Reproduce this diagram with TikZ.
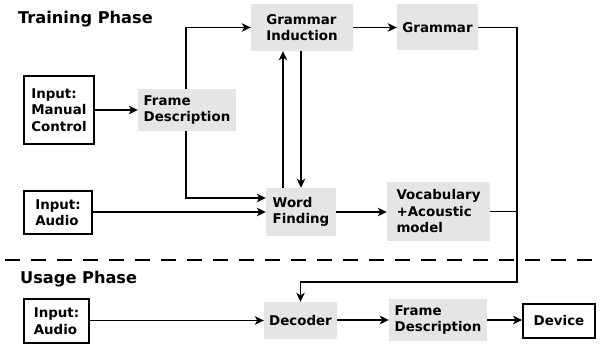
\documentclass[tikz,border=0pt]{standalone}
\usepackage{fontspec}
\setmainfont{DejaVu Sans}
\usetikzlibrary{arrows.meta}
\definecolor{boxgray}{HTML}{E5E5E5}
\tikzset{
  base/.style={font=\fontsize{13.4}{16.5}\selectfont\bfseries, align=left, inner sep=0pt},
  inbox/.style={base, draw=black, line width=1.8pt, fill=white},
  graybox/.style={base, fill=boxgray},
  arr/.style={line width=1.8pt, -{Stealth[length=9pt,width=8.5pt,inset=2.5pt]}},
  ln/.style={line width=1.8pt},
  heading/.style={font=\fontsize{16.2}{19}\selectfont\bfseries, inner sep=0pt, anchor=base west}
}
\begin{document}
\begin{tikzpicture}[x=1pt,y=-1pt]
\useasboundingbox (0,0) rectangle (602,345);
% headings
\node[heading] (tp) at (18,24) {Training Phase};
\node[heading] (up) at (20,283) {Usage Phase};
% training nodes
\node[inbox, minimum width=70pt, minimum height=68pt] (man) at (59,110) {Input:\\Manual\\Control};
\node[graybox, minimum width=98pt, minimum height=42pt] (fd1) at (187,110) {Frame\\Description};
\node[graybox, minimum width=102pt, minimum height=47pt] (gi) at (302,27.5) {Grammar\\Induction};
\node[graybox, minimum width=81pt, minimum height=46pt] (gr) at (437.5,27.5) {Grammar};
\node[graybox, minimum width=70pt, minimum height=48pt] (wf) at (301,212) {Word\\Finding};
\node[graybox, minimum width=103pt, minimum height=59pt] (voc) at (438.5,211.5) {Vocabulary\\+Acoustic\\model};
\node[inbox, minimum width=68pt, minimum height=43pt] (au1) at (58,212.5) {Input:\\Audio};
% usage nodes
\node[inbox, minimum width=65pt, minimum height=44pt] (au2) at (56.5,321) {Input:\\Audio};
\node[graybox, minimum width=73pt, minimum height=37pt] (dec) at (300.5,320.5) {Decoder};
\node[graybox, minimum width=98pt, minimum height=42pt] (fd2) at (438,320) {Frame\\Description};
\node[inbox, minimum width=72pt, minimum height=34pt] (dev) at (559,321) {Device};
% coordinates
\coordinate (corner) at (517,282);
\coordinate (dl) at (5,260);
\coordinate (dr) at (602,260);
% dashed separator
\draw[line width=1.5pt, dash pattern=on 15pt off 11pt] (dl) -- (dr);
% connectors
\draw[arr] (man.east |- fd1.west) -- (fd1.west);
\draw[arr] ([xshift=-1pt]fd1.north) |- (gi.west);
\draw[arr] ([xshift=-1pt]fd1.south) |- ([yshift=14pt]wf.west);
\draw[arr] (au1.east |- wf.west) -- (wf.west);
\draw[arr] ([xshift=-18pt]wf.north) -- ([xshift=-18pt]wf.north |- gi.south);
\draw[arr] (gi.south -| wf.north) -- (wf.north);
\draw[arr] (wf.east) -- (wf.east -| voc.west);
\draw[arr] (gi.east) -- (gi.east -| gr.west);
\draw[arr] (gr.east) -| (corner) -| (dec.north);
\draw[ln] (voc.east) -- (voc.east -| corner);
\draw[arr] (au2.east |- dec.west) -- (dec.west);
\draw[arr] (dec.east |- fd2.west) -- (fd2.west);
\draw[arr] (fd2.east) -- (fd2.east -| dev.west);
\end{tikzpicture}
\end{document}
